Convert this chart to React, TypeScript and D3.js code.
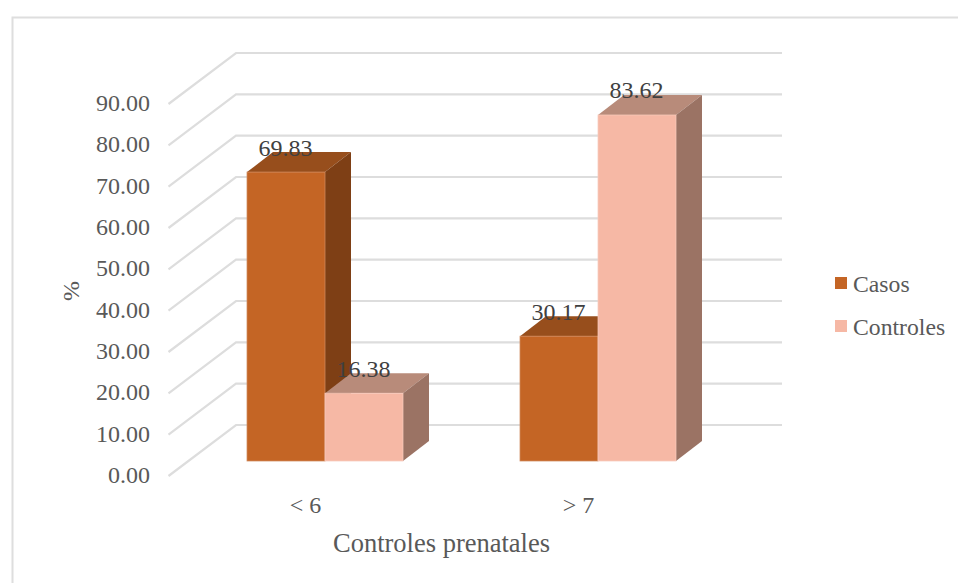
import React from "react";
import * as d3 from "d3";

const categories = ["< 6", "> 7"];
const seriesNames = ["Casos", "Controles"];
const casos = [69.83, 30.17];
const controles = [16.38, 83.62];
const yTicks = [0, 10, 20, 30, 40, 50, 60, 70, 80, 90];

const WIDTH = 958;
const HEIGHT = 583;
const SERIF = '"Liberation Serif", "Times New Roman", serif';

// Vertical scale on the plane holding the front faces of the bars.
const yBar = d3.scaleLinear().domain([0, 90]).range([461, 88.6]);
// Back wall of the 3D plot area and the oblique offset to the axis labels.
const yWall = d3.scaleLinear().domain([0, 90]).range([425, 53]);
const wallLeft = 236;
const wallRight = 782;
const floorDx = -67.5;
const floorDy = 51;

const groupStart = d3.scaleOrdinal<string, number>().domain(categories).range([247, 520]);
const barWidth = 78;
const depthX = 26;
const depthY = 20;

const palette = [
  { front: "#c46525", top: "#974e1c", side: "#7e3f15", edge: "#d08a5e" },
  { front: "#f6b8a5", top: "#b88b7a", side: "#9b7364", edge: "#f8cbbc" },
];

const pts = (p: [number, number][]) => p.map((d) => d.join(",")).join(" ");

function Bar({ x, value, c }: { x: number; value: number; c: (typeof palette)[number] }) {
  const y0 = yBar(0);
  const y1 = yBar(value);
  const x1 = x + barWidth;
  return (
    <g>
      <polygon
        points={pts([[x, y1], [x + depthX, y1 - depthY], [x1 + depthX, y1 - depthY], [x1, y1]])}
        fill={c.top}
      />
      <polygon
        points={pts([[x1, y1], [x1 + depthX, y1 - depthY], [x1 + depthX, y0 - depthY], [x1, y0]])}
        fill={c.side}
      />
      <rect x={x} y={y1} width={barWidth} height={y0 - y1} fill={c.front} stroke={c.edge} strokeWidth={0.75} />
    </g>
  );
}

export default function App() {
  const series = [casos, controles];
  return (
    <svg
      width={WIDTH}
      height={HEIGHT}
      viewBox={`0 0 ${WIDTH} ${HEIGHT}`}
      style={{ position: "absolute", left: 0, top: 0, background: "#fff" }}
      fontFamily={SERIF}
    >
      {/* Chart frame, cropped on the right and bottom */}
      <path d={`M${WIDTH},17.5 H12.5 V${HEIGHT}`} fill="none" stroke="#dedede" strokeWidth={2} />

      {/* Gridlines: along the back wall, then down the oblique floor side */}
      {yTicks.map((t) => (
        <path
          key={t}
          d={`M${wallLeft + floorDx},${yWall(t) + floorDy} L${wallLeft},${yWall(t)} H${wallRight}`}
          fill="none"
          stroke="#dddddd"
          strokeWidth={2.2}
        />
      ))}

      {/* Value axis labels */}
      {yTicks.map((t) => (
        <text key={t} x={150} y={yWall(t) + floorDy + 7} textAnchor="end" fontSize={24} fill="#595959">
          {d3.format(".2f")(t)}
        </text>
      ))}

      {/* Bars, rear faces painted first within each cluster */}
      {categories.map((cat) => (
        <g key={cat}>
          {series.map((vals, s) => (
            <Bar
              key={s}
              x={groupStart(cat) + s * barWidth}
              value={vals[categories.indexOf(cat)]}
              c={palette[s]}
            />
          ))}
        </g>
      ))}

      {/* Data labels */}
      {categories.map((cat, i) =>
        series.map((vals, s) => (
          <text
            key={`${cat}-${s}`}
            x={groupStart(cat) + s * barWidth + 38.5}
            y={yBar(vals[i]) - 16.5}
            textAnchor="middle"
            fontSize={24}
            fill="#404040"
          >
            {d3.format(".2f")(vals[i])}
          </text>
        ))
      )}

      {/* Category labels */}
      {categories.map((cat) => (
        <text key={cat} x={groupStart(cat) + 58.5} y={512.5} textAnchor="middle" fontSize={24} fill="#595959">
          {cat}
        </text>
      ))}

      {/* Axis titles */}
      <text x={441.5} y={552} textAnchor="middle" fontSize={26.5} fill="#595959">
        Controles prenatales
      </text>
      <text
        transform="translate(79,291) rotate(-90)"
        textAnchor="middle"
        fontSize={24}
        fill="#595959"
      >
        %
      </text>

      {/* Legend */}
      {seriesNames.map((name, s) => (
        <g key={name}>
          <rect x={835} y={277 + s * 43} width={12} height={12} fill={palette[s].front} />
          <text x={853} y={292 + s * 42.5} fontSize={23.7} fill="#595959">
            {name}
          </text>
        </g>
      ))}
    </svg>
  );
}
